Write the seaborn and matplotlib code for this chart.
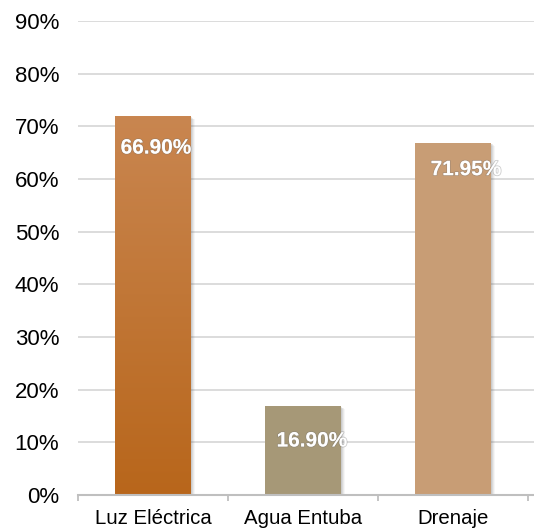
import numpy as np
import pandas as pd
import seaborn as sns
import matplotlib.pyplot as plt
import matplotlib.patheffects as pe
from matplotlib.colors import LinearSegmentedColormap
from matplotlib.ticker import FixedLocator

categories = ["Luz Eléctrica", "Agua Entuba", "Drenaje"]
bar_values = [71.95, 16.90, 66.90]
value_labels = ["66.90%", "16.90%", "71.95%"]
bar_colors = ["#C06E26", "#A69877", "#C89D75"]
y_ticks = [0, 10, 20, 30, 40, 50, 60, 70, 80, 90]
y_tick_labels = ["0%", "10%", "20%", "30%", "40%", "50%", "60%", "70%", "80%", "90%"]

sns.set_theme(style="white")
plt.rcParams["font.family"] = ["Liberation Sans", "DejaVu Sans"]

fig = plt.figure(figsize=(5.34, 5.31), dpi=100)
ax = fig.add_axes([78 / 534, 36 / 531, 456 / 534, 474 / 531])

df = pd.DataFrame({"categoria": categories, "valor": bar_values})
sns.barplot(data=df, x="categoria", y="valor", hue="categoria",
            palette=bar_colors, width=0.505, legend=False, ax=ax,
            saturation=1, zorder=3)

ax.set_ylim(0, 90)
ax.set_xlim(-0.5, 2.54)
ax.set_yticks(y_ticks)
ax.set_yticklabels(y_tick_labels)
ax.set_xlabel("")
ax.set_ylabel("")

# horizontal gridlines
for y in y_ticks[1:]:
    ax.axhline(y, color="#D9D9D9", lw=1.3, zorder=1)

for s in ["top", "right", "left"]:
    ax.spines[s].set_visible(False)
ax.spines["bottom"].set_color("#BFBFBF")
ax.spines["bottom"].set_linewidth(1.5)
ax.spines["bottom"].set_zorder(4)

ax.tick_params(axis="y", length=0, pad=13.5, labelsize=16, labelcolor="#000000")
ax.tick_params(axis="x", which="major", length=0, pad=10, labelsize=14.7,
               labelcolor="#000000")
ax.xaxis.set_minor_locator(FixedLocator([-0.5, 0.5, 1.5, 2.5]))
ax.tick_params(axis="x", which="minor", length=4, width=1.3, color="#BFBFBF",
               bottom=True)

# soft, slightly blurred shadows built from stacked offsets
shadow = []
for k, a in [(3.0, 0.06), (2.2, 0.09), (1.5, 0.12), (0.8, 0.14)]:
    shadow.append(pe.SimplePatchShadow(offset=(k, -k * 0.8),
                                       shadow_rgbFace="#707070", alpha=a))
shadow.append(pe.Normal())
grad = LinearSegmentedColormap.from_list("luz", ["#B8661B", "#C98650"])
for i, bar in enumerate(ax.patches):
    bar.set_path_effects(shadow)
    bar.set_edgecolor("none")
    if i == 0:
        x0, w, h = bar.get_x(), bar.get_width(), bar.get_height()
        img = ax.imshow(np.linspace(0, 1, 256).reshape(-1, 1), cmap=grad,
                        origin="lower", aspect="auto",
                        extent=[x0, x0 + w, 0, h], zorder=3.5)
        img.set_clip_path(bar)
ax.set_xlim(-0.5, 2.54)
ax.set_ylim(0, 90)

label_dx = [3, 9, 13]
label_dy = [32, 35, 27]
text_fx = [pe.withStroke(linewidth=1.2, foreground=(0.45, 0.45, 0.45, 0.35))]
for i, (bar, txt) in enumerate(zip(ax.patches, value_labels)):
    cx = bar.get_x() + bar.get_width() / 2
    ax.annotate(txt, xy=(cx, bar.get_height()),
                xytext=(label_dx[i] * 0.72, -label_dy[i] * 0.72),
                textcoords="offset points", ha="center", va="center",
                color="white", fontsize=15, fontweight="bold", zorder=5,
                path_effects=text_fx)

fig.savefig("out.png", dpi=100)
